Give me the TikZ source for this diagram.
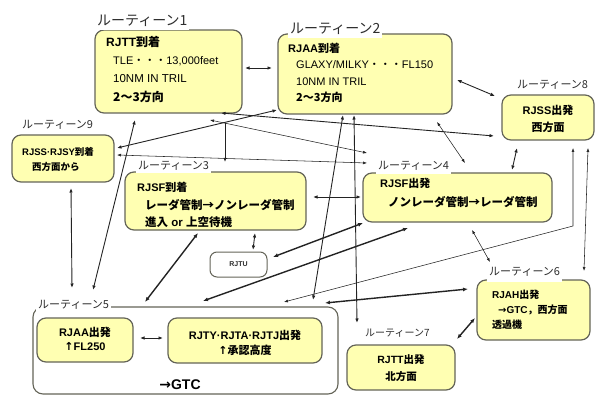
\documentclass[tikz,border=0pt]{standalone}
\usepackage{fontspec}
\setmainfont{Liberation Sans}
\newfontfamily\jp{Noto Sans CJK JP}
\newfontfamily\sym{DejaVu Sans}
\usetikzlibrary{arrows.meta}
\definecolor{boxfill}{RGB}{255,255,178}
\definecolor{boxline}{RGB}{100,100,88}
\definecolor{arr}{RGB}{35,35,35}
\definecolor{lbltext}{RGB}{45,45,45}
\begin{document}
\begin{tikzpicture}[x=1pt,y=-1pt,
  ybox/.style={draw=boxline, line width=1.2pt, fill=boxfill, rounded corners=9pt, inner sep=0pt},
  wbox/.style={draw=boxline, line width=1pt, fill=white, rounded corners=7pt, inner sep=0pt},
  lbl/.style={fill=white, inner xsep=2pt, inner ysep=2pt, anchor=west, text=lbltext, font=\jp\fontsize{11}{11}\selectfont},
  biglbl/.style={lbl, inner ysep=3pt, font=\jp\fontsize{14}{14}\selectfont},
  txt/.style={anchor=west, inner sep=0pt, font=\fontsize{11}{13}\selectfont},
  btxt/.style={anchor=west, inner sep=0pt, font=\bfseries\fontsize{11}{13}\selectfont},
  ctxt/.style={anchor=center, inner sep=0pt, font=\bfseries\fontsize{11}{13}\selectfont},
  conmed/.style={draw=arr, line width=0.9pt, {Latex[length=4.5pt,width=3.5pt]}-{Latex[length=4.5pt,width=3.5pt]}},
  conthin/.style={draw=arr, line width=0.55pt, {Latex[length=4pt,width=3pt]}-{Latex[length=4pt,width=3pt]}},
  conthick/.style={draw=arr, line width=1.4pt, {Latex[length=5pt,width=4pt]}-{Latex[length=5pt,width=4pt]}},
]
\useasboundingbox (0,0) rectangle (596,395);

% ---------- boxes ----------
\node[ybox, minimum width=147pt, minimum height=83pt] (r1) at (168.5,71.5) {};
\node[ybox, minimum width=174pt, minimum height=80pt] (r2) at (365,74) {};
\node[ybox, minimum width=92pt, minimum height=45pt] (r8) at (548,117.5) {};
\node[ybox, minimum width=102pt, minimum height=47pt] (r9) at (63,158.5) {};
\node[ybox, minimum width=181pt, minimum height=58pt] (r3) at (215.5,201) {};
\node[ybox, minimum width=189pt, minimum height=49pt] (r4) at (457.5,197.5) {};
\node[wbox, minimum width=57pt, minimum height=25pt] (rjtu) at (238.5,264.5) {};
\node[ybox, minimum width=113pt, minimum height=60pt] (r6) at (533.5,310) {};
\node[wbox, line width=1.1pt, rounded corners=10pt, minimum width=305pt, minimum height=87pt] (g5) at (185.5,350.5) {};
\node[ybox, minimum width=96pt, minimum height=44pt] (a5) at (85,340) {};
\node[ybox, minimum width=154pt, minimum height=45pt] (b5) at (245,340.5) {};
\node[ybox, minimum width=108pt, minimum height=45pt] (r7) at (401,367.5) {};

% ---------- labels ----------
\node[biglbl] (l1) at (95,21) {ルーティーン1};
\node[biglbl] (l2) at (288,29) {ルーティーン2};
\node[lbl] (l3) at (136,166) {ルーティーン3};
\node[lbl, inner ysep=3pt] (l4) at (376,166) {ルーティーン4};
\node[lbl] (l5) at (36,305) {ルーティーン5};
\node[lbl, inner ysep=5pt] (l6) at (487,272) {ルーティーン6};
\node[lbl, font=\jp\fontsize{10}{10}\selectfont] (l7) at (363,333) {ルーティーン7};
\node[lbl] (l8) at (515,85) {ルーティーン8};
\node[lbl] (l9) at (20,125) {ルーティーン9};

% ---------- texts ----------
\node[btxt, font=\bfseries\fontsize{12}{13}\selectfont] (r1a) at (106,42) {RJTT{\jp 到着}};
\node[txt] (r1b) at (113,61) {TLE{\jp ・・・}13,000feet};
\node[txt, font=\fontsize{11.5}{13}\selectfont] (r1c) at (113,79) {10NM IN TRIL};
\node[btxt, font=\bfseries\fontsize{12}{13}\selectfont] (r1d) at (113,97) {{\jp 2〜3方向}};

\node[btxt] (r2a) at (288,48) {RJAA{\jp 到着}};
\node[txt] (r2b) at (296,65) {GLAXY/MILKY{\jp ・・・}FL150};
\node[txt] (r2c) at (296,82) {10NM IN TRIL};
\node[btxt] (r2d) at (296,97) {{\jp 2〜3方向}};

\node[ctxt] (r8a) at (548,110) {RJSS{\jp 出発}};
\node[ctxt] (r8b) at (548,127) {{\jp 西方面}};

\node[btxt, font=\bfseries\fontsize{9.5}{11}\selectfont] (r9a) at (22,152) {RJSS·RJSY{\jp 到着}};
\node[btxt, font=\bfseries\fontsize{9.5}{11}\selectfont] (r9b) at (32,167) {{\jp 西方面から}};

\node[btxt] (r3a) at (137,187) {RJSF{\jp 到着}};
\node[btxt, font=\bfseries\fontsize{11.5}{13}\selectfont] (r3b) at (145,205) {{\jp レーダ管制→ノンレーダ管制}};
\node[btxt, font=\bfseries\fontsize{11.5}{13}\selectfont] (r3c) at (145,222) {{\jp 進入} or {\jp 上空待機}};

\node[btxt] (r4a) at (380,183) {RJSF{\jp 出発}};
\node[btxt, font=\bfseries\fontsize{11.5}{13}\selectfont] (r4b) at (388,202) {{\jp ノンレーダ管制→レーダ管制}};

\node[ctxt, font=\bfseries\fontsize{7}{8}\selectfont, text=lbltext] (rjtut) at (238.5,264.5) {RJTU};

\node[btxt, font=\bfseries\fontsize{10}{12}\selectfont] (r6a) at (492,295) {RJAH{\jp 出発}};
\node[btxt, font=\bfseries\fontsize{10}{12}\selectfont] (r6b) at (498,310) {{\sym →}GTC{\jp ，西方面}};
\node[btxt, font=\bfseries\fontsize{10}{12}\selectfont] (r6c) at (492,325) {{\jp 透過機}};

\node[ctxt] (a5a) at (85,332) {RJAA{\jp 出発}};
\node[ctxt] (a5b) at (85,347) {{\sym ↑}FL250};

\node[ctxt] (b5a) at (245,335) {RJTY·RJTA·RJTJ{\jp 出発}};
\node[ctxt] (b5b) at (245,350) {{\sym ↑}{\jp 承認高度}};

\node[ctxt, font=\bfseries\fontsize{14}{16}\selectfont] (gtc) at (180,385) {{\sym →}GTC};

\node[ctxt, font=\bfseries\fontsize{10.5}{12}\selectfont] (r7a) at (401,360) {RJTT{\jp 出発}};
\node[ctxt, font=\bfseries\fontsize{10.5}{12}\selectfont] (r7b) at (401,377) {{\jp 北方面}};

% ---------- connector end points ----------
\coordinate (p1a) at (245,68);   \coordinate (p1b) at (272,68);
\coordinate (p2a) at (457,80);   \coordinate (p2b) at (495,96);
\coordinate (p3a) at (117,148);  \coordinate (p3b) at (277,110);
\coordinate (p4a) at (221,113);  \coordinate (p4b) at (494,136);
\coordinate (p5a) at (210,120);  \coordinate (p5b) at (367,153);
\coordinate (p6a) at (225,123);  \coordinate (p6b) at (225,162);
\coordinate (p7a) at (117,155);  \coordinate (p7b) at (367,163);
\coordinate (p8a) at (71,188);   \coordinate (p8b) at (72,288);
\coordinate (p9a) at (135,120);  \coordinate (p9b) at (93,290);
\coordinate (p10a) at (198,233); \coordinate (p10b) at (145,302);
\coordinate (p11a) at (255,233); \coordinate (p11b) at (253,250);
\coordinate (p12a) at (363,223); \coordinate (p12b) at (273,257);
\coordinate (p13a) at (408,228); \coordinate (p13b) at (203,301);
\coordinate (p14a) at (343,115); \coordinate (p14b) at (313,300);
\coordinate (p15a) at (354,115); \coordinate (p15b) at (357,323);
\coordinate (p16a) at (437,122); \coordinate (p16b) at (465,163);
\coordinate (p17a) at (517,148); \coordinate (p17b) at (512,170);
\coordinate (p18a) at (588,148); \coordinate (p18b) at (584,271);
\coordinate (p19a) at (573,148); \coordinate (p19m) at (573,226); \coordinate (p19b) at (284,302);
\coordinate (p20a) at (468,289); \coordinate (p20b) at (325,303);
\coordinate (p21a) at (472,230); \coordinate (p21b) at (490,262);
\coordinate (p22a) at (475,318); \coordinate (p22b) at (457,339);
\coordinate (p23a) at (140,338); \coordinate (p23b) at (163,338);
\coordinate (p24a) at (313,197); \coordinate (p24b) at (361,197);

% ---------- connectors ----------
\draw[conmed] (p1a) -- (p1b);
\draw[conmed] (p2a) -- (p2b);
\draw[conmed] (p3a) -- (p3b);
\draw[conmed] (p4a) -- (p4b);
\draw[conthin] (p5a) -- (p5b);
\draw[draw=arr, line width=0.6pt, -{Latex[length=4pt,width=3pt]}] (p6a) -- (p6b);
\draw[conthin] (p7a) -- (p7b);
\draw[conmed] (p8a) -- (p8b);
\draw[conmed] (p9a) -- (p9b);
\draw[conthick] (p10a) -- (p10b);
\draw[conmed] (p11a) -- (p11b);
\draw[conthick] (p12a) -- (p12b);
\draw[conthick] (p13a) -- (p13b);
\draw[conmed] (p14a) -- (p14b);
\draw[conmed] (p15a) -- (p15b);
\draw[conthin] (p16a) -- (p16b);
\draw[conmed] (p17a) -- (p17b);
\draw[conthin] (p18a) -- (p18b);
\draw[conthin] (p19a) -- (p19m) -- (p19b);
\draw[conthick] (p20a) -- (p20b);
\draw[conthin] (p21a) -- (p21b);
\draw[conthick] (p22a) -- (p22b);
\draw[conmed] (p23a) -- (p23b);
\draw[conmed] (p24a) -- (p24b);
\end{tikzpicture}
\end{document}
